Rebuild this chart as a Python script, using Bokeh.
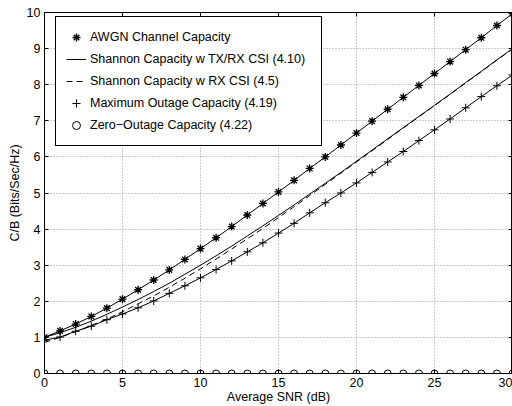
from bokeh.plotting import figure
from bokeh.models import Legend, LegendItem, LinearAxis, FixedTicker, Range1d
from bokeh.embed import file_html
from bokeh.resources import INLINE

# ---------------- data ----------------
snr_db = [0, 1, 2, 3, 4, 5, 6, 7, 8, 9, 10, 11, 12, 13, 14, 15,
          16, 17, 18, 19, 20, 21, 22, 23, 24, 25, 26, 27, 28, 29, 30]

awgn_capacity = [1.00, 1.18, 1.37, 1.58, 1.81, 2.06, 2.32, 2.59, 2.87, 3.16,
                 3.46, 3.76, 4.07, 4.39, 4.71, 5.03, 5.35, 5.68, 6.00, 6.33,
                 6.66, 6.99, 7.32, 7.65, 7.98, 8.31, 8.64, 8.97, 9.30, 9.64,
                 9.97]

shannon_txrx_csi = [1.00, 1.13, 1.28, 1.45, 1.64, 1.84, 2.05, 2.27, 2.50, 2.75,
                    3.00, 3.26, 3.53, 3.81, 4.09, 4.38, 4.67, 4.97, 5.27, 5.57,
                    5.88, 6.19, 6.50, 6.81, 7.12, 7.43, 7.74, 8.06, 8.37, 8.69,
                    9.00]

shannon_rx_csi = [0.86, 1.00, 1.16, 1.33, 1.51, 1.71, 1.93, 2.15, 2.39, 2.64,
                  2.90, 3.17, 3.45, 3.73, 4.02, 4.32, 4.62, 4.93, 5.24, 5.55,
                  5.86, 6.17, 6.48, 6.80, 7.11, 7.42, 7.73, 8.05, 8.36, 8.68,
                  8.99]

max_outage_capacity = [0.92, 1.01, 1.17, 1.31, 1.49, 1.65, 1.82, 2.01, 2.22, 2.43,
                       2.65, 2.88, 3.12, 3.37, 3.62, 3.89, 4.16, 4.45, 4.73, 5.00,
                       5.28, 5.57, 5.86, 6.15, 6.45, 6.75, 7.05, 7.36, 7.67, 7.97,
                       8.27]

zero_outage_capacity = [0, 0, 0, 0, 0, 0, 0, 0, 0, 0, 0, 0, 0, 0, 0, 0,
                        0, 0, 0, 0, 0, 0, 0, 0, 0, 0, 0, 0, 0, 0, 0]

legend_labels = ["AWGN Channel Capacity",
                 "Shannon Capacity w TX/RX CSI (4.10)",
                 "Shannon Capacity w RX CSI (4.5)",
                 "Maximum Outage Capacity (4.19)",
                 "Zero\u2212Outage Capacity (4.22)"]

x_ticks = [0, 5, 10, 15, 20, 25, 30]
y_ticks = [0, 1, 2, 3, 4, 5, 6, 7, 8, 9, 10]

x_label = "Average SNR (dB)"
y_label = "C/B (Bits/Sec/Hz)"

# ---------------- styling ----------------
FONT = "Liberation Sans"
FS = "12.5px"

p = figure(width=512, height=406,
           x_range=Range1d(0, 30), y_range=Range1d(0, 10),
           output_backend="svg", toolbar_location=None,
           min_border_left=44, min_border_right=0,
           min_border_top=12, min_border_bottom=20)

p.background_fill_color = "white"
p.border_fill_color = "white"
p.outline_line_color = "black"
p.outline_line_width = 1
p.outline_line_alpha = 1

for ax, ticks, lab in ((p.xaxis[0], x_ticks, x_label), (p.yaxis[0], y_ticks, y_label)):
    ax.ticker = FixedTicker(ticks=ticks)
    ax.axis_label = lab
    ax.axis_label_text_font = FONT
    ax.axis_label_text_font_size = FS
    ax.axis_label_text_font_style = "normal"
    ax.axis_label_text_color = "black"
    ax.major_label_text_font = FONT
    ax.major_label_text_font_size = FS
    ax.major_label_text_color = "black"
    ax.major_tick_in = 4
    ax.major_tick_out = 0
    ax.minor_tick_in = 0
    ax.minor_tick_out = 0
    ax.axis_line_color = "black"
    ax.major_tick_line_color = "black"

p.xaxis[0].major_label_standoff = 4
p.xaxis[0].axis_label_standoff = 0
p.yaxis[0].major_label_standoff = 4
p.yaxis[0].axis_label_standoff = 2
p.yaxis[0].major_label_orientation = "horizontal"

# box ticks on top / right
for side, ticks in (("above", x_ticks), ("right", y_ticks)):
    a = LinearAxis(ticker=FixedTicker(ticks=ticks),
                   major_label_overrides={t: "" for t in ticks},
                   major_label_text_font_size="0px",
                   major_label_standoff=0,
                   major_tick_in=4, major_tick_out=0,
                   minor_tick_in=0, minor_tick_out=0,
                   axis_line_color="black", major_tick_line_color="black")
    p.add_layout(a, side)

p.xgrid.ticker = FixedTicker(ticks=x_ticks)
p.ygrid.ticker = FixedTicker(ticks=y_ticks)
for g in (p.xgrid[0], p.ygrid[0]):
    g.grid_line_color = "#999999"
    g.grid_line_dash = "1 2"
    g.grid_line_width = 1

# ---------------- series ----------------
r_awgn_l = p.line(snr_db, awgn_capacity, line_color="black", line_width=1)
r_txrx = p.line(snr_db, shannon_txrx_csi, line_color="black", line_width=1)
r_rx = p.line(snr_db, shannon_rx_csi, line_color="black", line_width=1, line_dash="6 4")
r_out_l = p.line(snr_db, max_outage_capacity, line_color="black", line_width=1)
r_zero_l = p.line(snr_db, zero_outage_capacity, line_color="black", line_width=1.2)

r_awgn_m = p.scatter(snr_db, awgn_capacity, marker="asterisk", size=8,
                     line_color="black", line_width=1.3)
r_out_m = p.scatter(snr_db, max_outage_capacity, marker="cross", size=8,
                    line_color="black", line_width=1)
r_zero_m = p.scatter(snr_db, zero_outage_capacity, marker="circle", size=7,
                     line_color="black", line_width=1, fill_color="white", fill_alpha=0)

legend = Legend(items=[
    LegendItem(label=legend_labels[0], renderers=[r_awgn_m]),
    LegendItem(label=legend_labels[1], renderers=[r_txrx]),
    LegendItem(label=legend_labels[2], renderers=[r_rx]),
    LegendItem(label=legend_labels[3], renderers=[r_out_m]),
    LegendItem(label=legend_labels[4], renderers=[r_zero_m]),
], location=(11, 227))
legend.margin = 0
legend.padding = 10
legend.spacing = 2
legend.glyph_width = 20
legend.glyph_height = 20
legend.label_height = 20
legend.label_width = 221
legend.label_standoff = 4
legend.label_text_font = FONT
legend.label_text_font_size = FS
legend.label_text_color = "black"
legend.border_line_color = "black"
legend.border_line_width = 1.5
legend.border_line_alpha = 1
legend.background_fill_color = "white"
legend.background_fill_alpha = 1
p.add_layout(legend)

open("out.html", "w").write(file_html(p, INLINE))
